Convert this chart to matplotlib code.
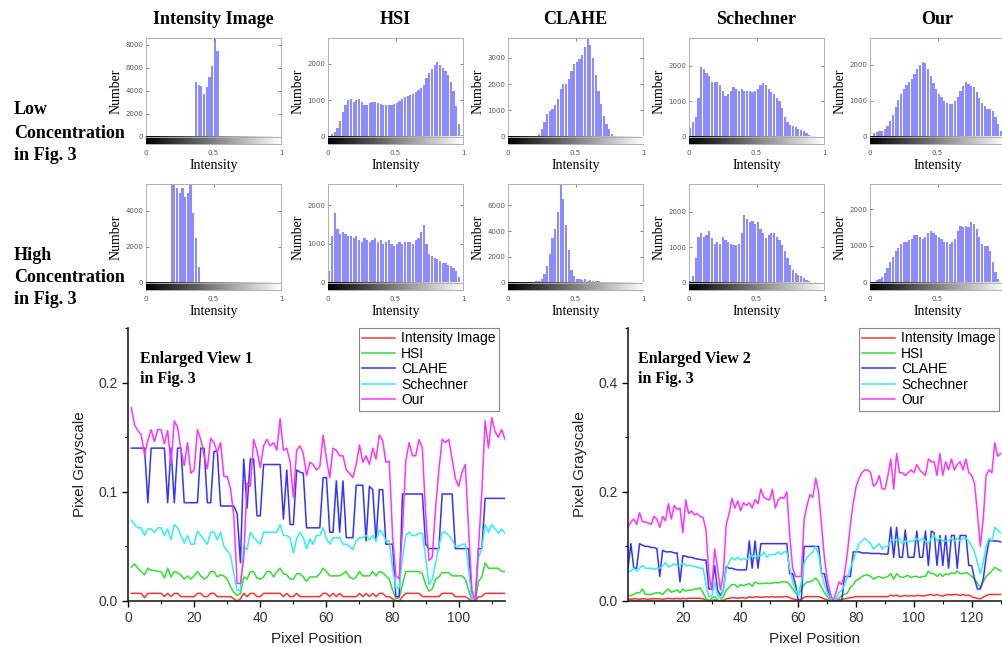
import matplotlib
matplotlib.use("Agg")
import matplotlib.pyplot as plt
import numpy as np
from matplotlib.ticker import MultipleLocator, FormatStrFormatter

# ---------------- data ----------------
methods = ["Intensity Image", "HSI", "CLAHE", "Schechner", "Our"]
row_labels = [["Low", "Concentration", "in Fig. 3"], ["High", "Concentration", "in Fig. 3"]]

# histogram bin centres (bin width 0.02)
bin_centers = np.arange(0.01, 1.0, 0.02)

low_intensity = [0] * 18 + [4800, 4500, 4400, 3700, 4300, 5200, 6200, 9000, 7500] + [0] * 23
low_hsi = [20, 70, 140, 240, 420, 680, 880, 1000, 1020, 960,
           1010, 1020, 960, 880, 860, 920, 950, 940, 930, 900,
           880, 880, 860, 880, 900, 930, 970, 1020, 1080, 1110,
           1130, 1170, 1220, 1280, 1330, 1420, 1600, 1750, 1850, 1950,
           2050, 1950, 1880, 1800, 1700, 1500, 1250, 850, 350, 60]
low_clahe = [0] * 10 + [30, 100, 280, 550, 850, 980, 1050, 1200, 1450, 1800,
                        2000, 2000, 2200, 2500, 2750, 2850, 2950, 3100, 3400, 3800,
                        3500, 3000, 2350, 1750, 1250, 800, 480, 280, 120, 30] + [0] * 10
low_schechner = [250, 400, 550, 1100, 1950, 1900, 1800, 1700, 1550, 1550,
                 1550, 1450, 1300, 1150, 1200, 1300, 1400, 1350, 1300, 1350,
                 1300, 1300, 1300, 1250, 1300, 1350, 1450, 1520, 1450, 1350,
                 1250, 1200, 1100, 1000, 800, 550, 400, 320, 300, 270,
                 230, 200, 150, 100, 60, 25, 0, 0, 0, 0]
low_our = [20, 100, 140, 150, 170, 220, 300, 430, 600, 820,
           1020, 1180, 1320, 1450, 1520, 1620, 1750, 1880, 2000, 2080,
           2050, 1900, 1700, 1500, 1320, 1200, 1100, 1000, 940, 910,
           920, 1000, 1120, 1280, 1420, 1520, 1480, 1420, 1380, 1250,
           1080, 950, 850, 780, 780, 720, 550, 350, 150, 30]

high_intensity = [0] * 9 + [5800, 5800, 5300, 5000, 5300, 4800, 5000, 5600, 3900, 2500, 900] + [0] * 30
high_hsi = [300, 1200, 1800, 1400, 1250, 1300, 1250, 1200, 1200, 1150,
            1200, 1100, 1050, 1150, 1100, 1050, 1100, 1150, 1050, 1100,
            1000, 1050, 1100, 1000, 950, 1000, 1050, 1000, 1050, 1050,
            1050, 1000, 1100, 1150, 1300, 1480, 1000, 750, 700, 650,
            620, 570, 520, 500, 470, 420, 370, 300, 150, 20]
high_clahe = [0] * 8 + [20, 50, 100, 150, 300, 700, 1300, 2200, 3500, 4200,
                        5500, 7600, 6500, 4500, 2500, 1000, 500, 300, 250, 200,
                        250, 150, 200, 150, 100, 120, 80, 50] + [0] * 14
high_schechner = [50, 200, 700, 1300, 1400, 1300, 1350, 1450, 1250, 1100,
                  1150, 1100, 1300, 1200, 1150, 1100, 1050, 1050, 1100, 1400,
                  1900, 1800, 1700, 1750, 1650, 1700, 1500, 1400, 1250, 1350,
                  1400, 1400, 1300, 1200, 1050, 900, 700, 500, 350, 280,
                  230, 180, 130, 80, 40, 10, 0, 0, 0, 0]
high_our = [10, 30, 60, 100, 150, 250, 400, 550, 700, 850,
            950, 1050, 1100, 1100, 1150, 1200, 1300, 1300, 1250, 1200,
            1250, 1350, 1400, 1350, 1300, 1250, 1200, 1100, 1100, 1050,
            1100, 1200, 1400, 1550, 1500, 1550, 1500, 1650, 1600, 1450,
            1250, 1050, 1000, 1000, 850, 550, 300, 100, 20, 0]

hists = [[low_intensity, low_hsi, low_clahe, low_schechner, low_our],
         [high_intensity, high_hsi, high_clahe, high_schechner, high_our]]
hist_top = [[8600, 2700, 3750, 2780, 2750], [5500, 2550, 7650, 2780, 2680]]
hist_step = [[2000, 1000, 1000, 1000, 1000], [2000, 1000, 2000, 1000, 1000]]

# enlarged view 1, pixel positions 1..114
pos1 = np.arange(1, 115)
v1_intensity = [0.007, 0.007, 0.007, 0.007, 0.003, 0.007, 0.007, 0.007, 0.007, 0.007,
                0.004, 0.007, 0.004, 0.007, 0.007, 0.004, 0.004, 0.004, 0.004, 0.004,
                0.007, 0.007, 0.004, 0.004, 0.007, 0.007, 0.004, 0.004, 0.004, 0.004,
                0.004, 0.002, 0.000, 0.002, 0.007, 0.004, 0.007, 0.007, 0.004, 0.004,
                0.007, 0.007, 0.007, 0.007, 0.007, 0.007, 0.004, 0.007, 0.004, 0.004,
                0.007, 0.004, 0.004, 0.004, 0.004, 0.004, 0.004, 0.004, 0.007, 0.007,
                0.004, 0.007, 0.004, 0.007, 0.004, 0.004, 0.004, 0.004, 0.004, 0.007,
                0.004, 0.007, 0.004, 0.007, 0.004, 0.007, 0.007, 0.004, 0.004, 0.002,
                0.000, 0.000, 0.004, 0.007, 0.007, 0.007, 0.007, 0.007, 0.004, 0.004,
                0.004, 0.004, 0.004, 0.004, 0.007, 0.007, 0.007, 0.007, 0.004, 0.004,
                0.004, 0.004, 0.002, 0.000, 0.000, 0.004, 0.004, 0.007, 0.007, 0.007,
                0.007, 0.007, 0.007, 0.007]
v1_hsi = [0.031, 0.034, 0.030, 0.027, 0.024, 0.030, 0.028, 0.028, 0.027, 0.027,
          0.021, 0.030, 0.022, 0.027, 0.026, 0.024, 0.020, 0.023, 0.020, 0.023,
          0.027, 0.023, 0.020, 0.022, 0.027, 0.027, 0.022, 0.024, 0.023, 0.020,
          0.013, 0.008, 0.005, 0.007, 0.022, 0.020, 0.027, 0.027, 0.021, 0.020,
          0.022, 0.027, 0.027, 0.022, 0.027, 0.030, 0.025, 0.024, 0.020, 0.020,
          0.025, 0.025, 0.022, 0.018, 0.022, 0.022, 0.022, 0.025, 0.030, 0.027,
          0.023, 0.023, 0.023, 0.023, 0.025, 0.027, 0.022, 0.020, 0.022, 0.027,
          0.023, 0.023, 0.023, 0.027, 0.023, 0.027, 0.026, 0.023, 0.020, 0.010,
          0.002, 0.003, 0.015, 0.027, 0.027, 0.027, 0.027, 0.027, 0.025, 0.015,
          0.009, 0.011, 0.020, 0.022, 0.026, 0.026, 0.026, 0.023, 0.023, 0.023,
          0.023, 0.020, 0.010, 0.000, 0.000, 0.018, 0.022, 0.035, 0.030, 0.030,
          0.030, 0.030, 0.027, 0.027]
v1_clahe = [0.14, 0.14, 0.14, 0.14, 0.14, 0.09, 0.14, 0.14, 0.14, 0.14,
            0.14, 0.09, 0.14, 0.09, 0.14, 0.14, 0.09, 0.09, 0.09, 0.09,
            0.09, 0.14, 0.14, 0.09, 0.09, 0.137, 0.137, 0.087, 0.087, 0.087,
            0.087, 0.087, 0.08, 0.035, 0.13, 0.085, 0.13, 0.13, 0.078, 0.078,
            0.125, 0.125, 0.125, 0.125, 0.125, 0.125, 0.075, 0.12, 0.07, 0.07,
            0.12, 0.118, 0.117, 0.067, 0.067, 0.067, 0.067, 0.067, 0.113, 0.113,
            0.063, 0.063, 0.11, 0.063, 0.11, 0.058, 0.058, 0.058, 0.106, 0.106,
            0.106, 0.055, 0.105, 0.102, 0.055, 0.102, 0.102, 0.052, 0.052, 0.052,
            0.004, 0.004, 0.098, 0.098, 0.098, 0.098, 0.098, 0.098, 0.098, 0.052,
            0.048, 0.048, 0.048, 0.048, 0.098, 0.098, 0.098, 0.098, 0.048, 0.048,
            0.048, 0.048, 0.048, 0.0, 0.0, 0.048, 0.048, 0.094, 0.094, 0.094,
            0.094, 0.094, 0.094, 0.094]
v1_schechner = [0.074, 0.070, 0.067, 0.067, 0.060, 0.066, 0.066, 0.063, 0.067, 0.067,
                0.060, 0.066, 0.056, 0.070, 0.067, 0.060, 0.053, 0.060, 0.052, 0.052,
                0.064, 0.060, 0.056, 0.052, 0.063, 0.063, 0.056, 0.063, 0.050, 0.046,
                0.042, 0.025, 0.010, 0.010, 0.050, 0.047, 0.063, 0.058, 0.055, 0.052,
                0.063, 0.063, 0.063, 0.063, 0.063, 0.070, 0.060, 0.060, 0.058, 0.044,
                0.057, 0.063, 0.058, 0.048, 0.057, 0.052, 0.060, 0.060, 0.067, 0.057,
                0.052, 0.058, 0.058, 0.058, 0.052, 0.052, 0.050, 0.047, 0.055, 0.058,
                0.058, 0.060, 0.056, 0.060, 0.055, 0.065, 0.062, 0.055, 0.055, 0.030,
                0.012, 0.012, 0.040, 0.060, 0.063, 0.060, 0.060, 0.062, 0.062, 0.040,
                0.015, 0.020, 0.035, 0.050, 0.063, 0.063, 0.060, 0.056, 0.050, 0.050,
                0.052, 0.052, 0.030, 0.000, 0.005, 0.040, 0.048, 0.070, 0.063, 0.070,
                0.066, 0.062, 0.066, 0.062]
v1_our = [0.177, 0.161, 0.156, 0.152, 0.134, 0.147, 0.157, 0.146, 0.157, 0.157,
          0.144, 0.156, 0.126, 0.165, 0.159, 0.139, 0.124, 0.145, 0.117, 0.120,
          0.157, 0.148, 0.133, 0.121, 0.149, 0.145, 0.136, 0.145, 0.114, 0.114,
          0.103, 0.078, 0.016, 0.016, 0.040, 0.108, 0.105, 0.148, 0.138, 0.122,
          0.142, 0.148, 0.142, 0.145, 0.138, 0.167, 0.138, 0.140, 0.128, 0.095,
          0.138, 0.142, 0.135, 0.115, 0.127, 0.125, 0.120, 0.123, 0.152, 0.130,
          0.113, 0.140, 0.138, 0.133, 0.133, 0.120, 0.117, 0.113, 0.125, 0.143,
          0.127, 0.133, 0.125, 0.140, 0.130, 0.152, 0.147, 0.127, 0.128, 0.060,
          0.023, 0.020, 0.065, 0.128, 0.145, 0.133, 0.133, 0.148, 0.140, 0.080,
          0.037, 0.040, 0.085, 0.120, 0.148, 0.145, 0.148, 0.130, 0.112, 0.105,
          0.118, 0.125, 0.065, 0.010, 0.000, 0.050, 0.100, 0.165, 0.140, 0.168,
          0.155, 0.150, 0.157, 0.148]

# enlarged view 2, pixel positions 1..130
pos2 = np.arange(1, 131)
v2_intensity = [0.004, 0.003, 0.004, 0.004, 0.003, 0.004, 0.004, 0.003, 0.004, 0.004,
                0.004, 0.004, 0.003, 0.004, 0.005, 0.004, 0.004, 0.005, 0.004, 0.005,
                0.004, 0.005, 0.005, 0.005, 0.005, 0.005, 0.004, 0.002, 0.001, 0.001,
                0.002, 0.001, 0.000, 0.001, 0.004, 0.005, 0.006, 0.006, 0.005, 0.006,
                0.006, 0.005, 0.008, 0.006, 0.008, 0.007, 0.007, 0.007, 0.008, 0.007,
                0.008, 0.007, 0.008, 0.007, 0.008, 0.008, 0.006, 0.004, 0.003, 0.002,
                0.003, 0.007, 0.008, 0.008, 0.008, 0.008, 0.008, 0.006, 0.004, 0.002,
                0.001, 0.000, 0.001, 0.002, 0.003, 0.004, 0.005, 0.006, 0.007, 0.008,
                0.008, 0.008, 0.008, 0.008, 0.008, 0.008, 0.008, 0.008, 0.008, 0.008,
                0.008, 0.011, 0.009, 0.011, 0.008, 0.009, 0.010, 0.009, 0.010, 0.009,
                0.010, 0.010, 0.009, 0.010, 0.011, 0.012, 0.010, 0.012, 0.010, 0.009,
                0.011, 0.012, 0.011, 0.012, 0.012, 0.010, 0.012, 0.010, 0.011, 0.008,
                0.006, 0.005, 0.004, 0.007, 0.010, 0.012, 0.012, 0.012, 0.012, 0.012]
v2_hsi = [0.010, 0.010, 0.012, 0.015, 0.015, 0.022, 0.012, 0.012, 0.012, 0.014,
          0.015, 0.015, 0.012, 0.018, 0.022, 0.016, 0.018, 0.020, 0.015, 0.022,
          0.018, 0.020, 0.020, 0.022, 0.022, 0.024, 0.015, 0.005, 0.000, 0.005,
          0.008, 0.002, 0.000, 0.008, 0.020, 0.025, 0.030, 0.030, 0.025, 0.030,
          0.028, 0.030, 0.032, 0.027, 0.035, 0.032, 0.032, 0.032, 0.033, 0.032,
          0.033, 0.034, 0.033, 0.035, 0.035, 0.035, 0.030, 0.022, 0.015, 0.012,
          0.020, 0.030, 0.035, 0.035, 0.038, 0.042, 0.035, 0.025, 0.015, 0.008,
          0.003, 0.000, 0.002, 0.005, 0.010, 0.012, 0.015, 0.025, 0.030, 0.038,
          0.040, 0.045, 0.047, 0.048, 0.045, 0.040, 0.043, 0.045, 0.042, 0.043,
          0.045, 0.050, 0.040, 0.050, 0.045, 0.043, 0.045, 0.047, 0.043, 0.045,
          0.045, 0.043, 0.045, 0.045, 0.055, 0.050, 0.050, 0.045, 0.050, 0.045,
          0.050, 0.048, 0.052, 0.050, 0.055, 0.050, 0.050, 0.052, 0.050, 0.045,
          0.040, 0.032, 0.025, 0.035, 0.045, 0.050, 0.055, 0.062, 0.058, 0.055]
v2_clahe = [0.060, 0.105, 0.060, 0.060, 0.105, 0.102, 0.100, 0.100, 0.098, 0.098,
            0.096, 0.045, 0.093, 0.090, 0.090, 0.090, 0.088, 0.088, 0.035, 0.083,
            0.082, 0.080, 0.080, 0.078, 0.077, 0.076, 0.075, 0.075, 0.022, 0.022,
            0.065, 0.020, 0.010, 0.020, 0.063, 0.060, 0.060, 0.058, 0.057, 0.057,
            0.057, 0.057, 0.110, 0.060, 0.110, 0.060, 0.105, 0.105, 0.105, 0.105,
            0.105, 0.105, 0.105, 0.105, 0.105, 0.105, 0.050, 0.050, 0.030, 0.000,
            0.000, 0.100, 0.100, 0.100, 0.100, 0.100, 0.100, 0.050, 0.050, 0.025,
            0.005, 0.000, 0.000, 0.000, 0.000, 0.045, 0.045, 0.045, 0.090, 0.090,
            0.090, 0.088, 0.088, 0.088, 0.087, 0.087, 0.087, 0.087, 0.086, 0.086,
            0.086, 0.135, 0.080, 0.135, 0.080, 0.080, 0.130, 0.080, 0.080, 0.080,
            0.128, 0.080, 0.080, 0.128, 0.065, 0.128, 0.125, 0.065, 0.120, 0.065,
            0.120, 0.060, 0.120, 0.120, 0.060, 0.120, 0.120, 0.120, 0.065, 0.065,
            0.040, 0.022, 0.022, 0.040, 0.080, 0.110, 0.110, 0.110, 0.110, 0.108]
v2_schechner = [0.055, 0.055, 0.060, 0.055, 0.060, 0.065, 0.060, 0.060, 0.060, 0.058,
                0.060, 0.060, 0.065, 0.070, 0.062, 0.065, 0.068, 0.065, 0.065, 0.070,
                0.065, 0.065, 0.065, 0.063, 0.062, 0.060, 0.060, 0.030, 0.008, 0.008,
                0.035, 0.010, 0.005, 0.020, 0.060, 0.070, 0.080, 0.075, 0.080, 0.075,
                0.078, 0.075, 0.080, 0.085, 0.078, 0.085, 0.082, 0.090, 0.080, 0.085,
                0.085, 0.085, 0.090, 0.085, 0.090, 0.090, 0.060, 0.035, 0.020, 0.010,
                0.035, 0.070, 0.080, 0.085, 0.090, 0.100, 0.085, 0.050, 0.030, 0.015,
                0.005, 0.000, 0.005, 0.015, 0.020, 0.030, 0.045, 0.060, 0.075, 0.090,
                0.105, 0.110, 0.115, 0.110, 0.105, 0.095, 0.100, 0.105, 0.095, 0.100,
                0.100, 0.110, 0.115, 0.110, 0.115, 0.105, 0.110, 0.108, 0.110, 0.110,
                0.115, 0.110, 0.115, 0.110, 0.105, 0.115, 0.120, 0.110, 0.115, 0.110,
                0.110, 0.110, 0.115, 0.110, 0.115, 0.110, 0.115, 0.115, 0.110, 0.100,
                0.090, 0.070, 0.050, 0.070, 0.100, 0.115, 0.110, 0.135, 0.130, 0.125]
v2_our = [0.135, 0.145, 0.150, 0.140, 0.162, 0.145, 0.145, 0.143, 0.140, 0.155,
          0.150, 0.135, 0.155, 0.147, 0.178, 0.150, 0.175, 0.168, 0.170, 0.125,
          0.185, 0.160, 0.165, 0.158, 0.160, 0.155, 0.153, 0.130, 0.050, 0.020,
          0.095, 0.060, 0.020, 0.050, 0.140, 0.160, 0.188, 0.170, 0.183, 0.165,
          0.180, 0.175, 0.180, 0.170, 0.186, 0.178, 0.205, 0.190, 0.187, 0.185,
          0.205, 0.170, 0.185, 0.190, 0.188, 0.200, 0.120, 0.060, 0.045, 0.045,
          0.045, 0.150, 0.175, 0.195, 0.190, 0.225, 0.200, 0.140, 0.080, 0.040,
          0.015, 0.000, 0.015, 0.035, 0.030, 0.050, 0.090, 0.140, 0.180, 0.210,
          0.225, 0.235, 0.240, 0.240, 0.235, 0.210, 0.215, 0.230, 0.205, 0.205,
          0.230, 0.260, 0.205, 0.270, 0.235, 0.235, 0.230, 0.235, 0.240, 0.235,
          0.250, 0.240, 0.235, 0.230, 0.260, 0.255, 0.255, 0.230, 0.270, 0.230,
          0.255, 0.240, 0.260, 0.240, 0.250, 0.255, 0.240, 0.260, 0.235, 0.230,
          0.215, 0.160, 0.100, 0.150, 0.230, 0.240, 0.235, 0.290, 0.265, 0.270]

line_colors = ["#ff3333", "#33dd33", "#3333ff", "#33eeee", "#ff33ff"]

# ---------------- figure ----------------
fig = plt.figure(figsize=(10.02, 6.47), dpi=100)
W, H = 1002.0, 647.0
serif = "Liberation Serif"
sans = "Liberation Sans"

col_left = [146, 328, 508, 689, 870]
row_top = [38, 184]
gradient = np.linspace(0, 1, 256).reshape(1, -1)

for r in range(2):
    for c in range(5):
        ax = fig.add_axes([col_left[c] / W, 1 - (row_top[r] + 106) / H, 135 / W, 106 / H])
        top = hist_top[r][c]
        ylo = -0.074 * top
        ax.bar(bin_centers, hists[r][c], width=0.017, color="#8c8cff", edgecolor="none")
        ax.imshow(gradient, cmap="gray", extent=[0, 1, ylo, 0], aspect="auto", zorder=3)
        ax.axhline(0, color="#b0b0b0", lw=0.7, zorder=4)
        ax.set_xlim(0, 1)
        ax.set_xticks([0, 0.5, 1])
        if c == 4:
            ax.set_xticklabels(["0", "0.5", ""])
        else:
            ax.set_xticklabels(["0", "0.5", "1"])
        ax.yaxis.set_major_locator(MultipleLocator(hist_step[r][c]))
        ax.set_ylim(ylo, top)
        ax.tick_params(labelsize=5, colors="#555555", length=2, width=0.5,
                       direction="in", top=True, right=True, pad=2)
        ax.tick_params(axis="x", pad=4)
        for s in ax.spines.values():
            s.set_color("#b0b0b0")
            s.set_linewidth(0.7)
        ax.set_ylabel("Number", family=serif, fontsize=10)
        ax.yaxis.set_label_coords(-0.175, 0.5)
        ax.set_xlabel("Intensity", family=serif, fontsize=10, labelpad=0)
        ax.xaxis.set_label_coords(0.5, -0.14)
        if r == 0:
            ax.set_title(methods[c], family=serif, fontsize=13, fontweight="bold", pad=10)

# row labels, one text per line
row_line_y = [[110, 133, 155], [255, 278, 300]]
for r in range(2):
    for line, y in zip(row_labels[r], row_line_y[r]):
        fig.text(14 / W, 1 - y / H, line, family=serif, fontsize=13, fontweight="bold",
                 ha="left", va="center")

# ---------------- line plots ----------------
views = [
    (pos1, [v1_intensity, v1_hsi, v1_clahe, v1_schechner, v1_our],
     [128 / W, 1 - 601 / H, 377 / W, 273 / H], (0, 114), 0.25, 0.1, 0.05,
     "Enlarged View 1\nin Fig. 3", 0.032, 0.984),
    (pos2, [v2_intensity, v2_hsi, v2_clahe, v2_schechner, v2_our],
     [628 / W, 1 - 601 / H, 374 / W, 273 / H], (1, 130.5), 0.5, 0.2, 0.1,
     "Enlarged View 2\nin Fig. 3", 0.026, 0.992),
]

for pos, series, rect, xlim, ytop, ymaj, ymin, note, note_x, leg_x in views:
    ax = fig.add_axes(rect)
    for vals, name, col in zip(series, methods, line_colors):
        ax.plot(pos, vals, color=col, lw=1.1, label=name)
    ax.set_xlim(*xlim)
    ax.set_ylim(0, ytop)
    ax.xaxis.set_major_locator(MultipleLocator(20))
    ax.xaxis.set_minor_locator(MultipleLocator(10))
    ax.yaxis.set_major_locator(MultipleLocator(ymaj))
    ax.yaxis.set_minor_locator(MultipleLocator(ymin))
    ax.yaxis.set_major_formatter(FormatStrFormatter("%.1f"))
    ax.spines["top"].set_visible(False)
    ax.spines["right"].set_visible(False)
    for s in ["left", "bottom"]:
        ax.spines[s].set_linewidth(1.2)
        ax.spines[s].set_color("#222222")
    ax.tick_params(which="major", direction="out", length=4, width=1.0,
                   labelsize=10, labelcolor="#333333")
    ax.tick_params(which="minor", direction="out", length=2.5, width=0.8)
    for lab in ax.get_xticklabels() + ax.get_yticklabels():
        lab.set_family(sans)
    ax.set_ylabel("Pixel Grayscale", family=sans, fontsize=11, color="#222222")
    ax.yaxis.set_label_coords(-0.11, 0.5)
    ax.set_xlabel("Pixel Position", family=sans, fontsize=11, color="#222222")
    ax.xaxis.set_label_coords(0.5, -0.113)
    ax.text(note_x, 0.915, note, transform=ax.transAxes, family=serif, fontsize=11.5,
            fontweight="bold", va="top", ha="left", linespacing=1.3)
    leg = ax.legend(loc="upper right", bbox_to_anchor=(leg_x, 1.0), borderaxespad=0,
                    fancybox=False, edgecolor="#888888", framealpha=1,
                    prop={"family": sans, "size": 10}, handlelength=2.4,
                    handletextpad=0.4, labelspacing=0.1, borderpad=0.25)
    leg.get_frame().set_linewidth(0.8)

fig.savefig("out.png", dpi=100)
